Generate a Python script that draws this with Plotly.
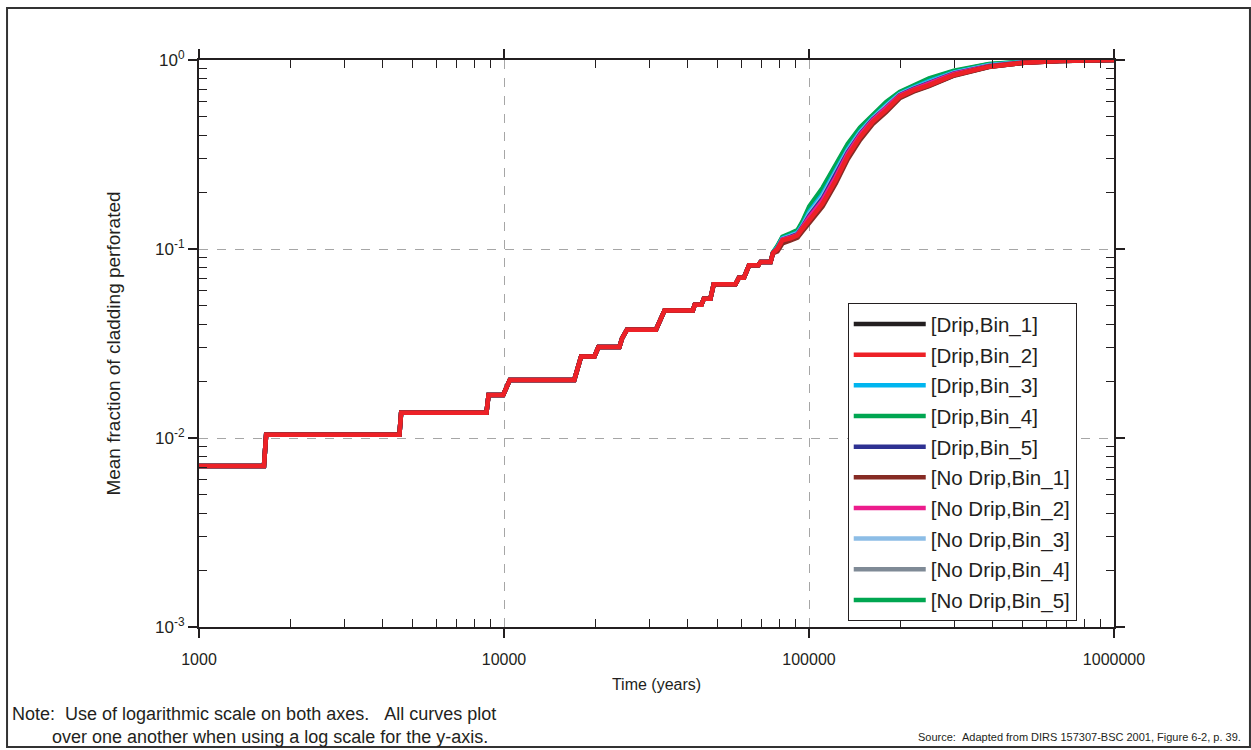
import plotly.graph_objects as go

# ---- data ----
t_early = [1000, 1633, 1660, 4540, 4600, 8760, 8900, 9940, 10450, 17000, 17900, 19800, 20400,
           23900, 24400, 25300, 31500, 32100, 33600, 41600, 42200, 44400, 45200, 47500, 48700,
           57400, 58900, 61200, 63600, 68200, 69400, 74800]
frac_early = [0.0071, 0.0071, 0.0104, 0.0104, 0.0136, 0.0136, 0.0169, 0.0169, 0.0203, 0.0203,
              0.0270, 0.0270, 0.0303, 0.0303, 0.0338, 0.0374, 0.0374, 0.0402, 0.0473, 0.0473,
              0.0507, 0.0507, 0.0546, 0.0546, 0.0650, 0.0650, 0.0705, 0.0705, 0.0820, 0.0820,
              0.0853, 0.0853]

t_late = [76200, 78800, 81800, 87000, 91700, 95200, 100200, 110800, 122400, 134000, 147000,
          161800, 179000, 198200, 220000, 247500, 298500, 389000, 508000, 662000, 1000000]

drip_bin1 = [0.0951, 0.099, 0.109, 0.112, 0.116, 0.126, 0.140, 0.171, 0.227, 0.304, 0.384,
             0.465, 0.537, 0.634, 0.685, 0.732, 0.829, 0.920, 0.967, 0.988, 1.0]
drip_bin2 = [0.0953, 0.100, 0.111, 0.114, 0.118, 0.128, 0.142, 0.174, 0.231, 0.310, 0.390,
             0.471, 0.543, 0.640, 0.690, 0.737, 0.833, 0.922, 0.968, 0.988, 1.0]
drip_bin3 = [0.0957, 0.102, 0.114, 0.118, 0.122, 0.134, 0.157, 0.195, 0.258, 0.337, 0.418,
             0.495, 0.575, 0.662, 0.715, 0.773, 0.860, 0.940, 0.975, 0.991, 1.0]
drip_bin4 = [0.0960, 0.104, 0.116, 0.121, 0.126, 0.140, 0.168, 0.211, 0.278, 0.360, 0.440,
             0.511, 0.600, 0.677, 0.735, 0.800, 0.877, 0.953, 0.980, 0.993, 1.0]
drip_bin5 = [0.0954, 0.101, 0.112, 0.116, 0.120, 0.131, 0.150, 0.185, 0.245, 0.325, 0.405,
             0.485, 0.560, 0.652, 0.703, 0.755, 0.848, 0.931, 0.972, 0.990, 1.0]
nodrip_bin1 = [0.0950, 0.097, 0.107, 0.111, 0.115, 0.124, 0.137, 0.168, 0.222, 0.298, 0.377,
               0.458, 0.530, 0.627, 0.680, 0.727, 0.825, 0.918, 0.966, 0.987, 1.0]
nodrip_bin2 = [0.0953, 0.100, 0.112, 0.115, 0.119, 0.130, 0.147, 0.181, 0.240, 0.320, 0.400,
               0.480, 0.555, 0.648, 0.698, 0.748, 0.843, 0.928, 0.971, 0.989, 1.0]
nodrip_bin3 = [0.0955, 0.101, 0.113, 0.117, 0.121, 0.132, 0.153, 0.190, 0.251, 0.331, 0.411,
               0.490, 0.568, 0.657, 0.709, 0.764, 0.854, 0.936, 0.974, 0.991, 1.0]
nodrip_bin4 = [0.0952, 0.099, 0.110, 0.113, 0.117, 0.127, 0.141, 0.172, 0.229, 0.307, 0.387,
               0.468, 0.540, 0.637, 0.688, 0.735, 0.831, 0.921, 0.968, 0.988, 1.0]
nodrip_bin5 = [0.0959, 0.103, 0.115, 0.120, 0.125, 0.138, 0.165, 0.207, 0.273, 0.355, 0.434,
               0.505, 0.592, 0.672, 0.729, 0.792, 0.871, 0.949, 0.978, 0.992, 1.0]

series_names = ["[Drip,Bin_1]", "[Drip,Bin_2]", "[Drip,Bin_3]", "[Drip,Bin_4]", "[Drip,Bin_5]",
                "[No Drip,Bin_1]", "[No Drip,Bin_2]", "[No Drip,Bin_3]", "[No Drip,Bin_4]",
                "[No Drip,Bin_5]"]
series_late = [drip_bin1, drip_bin2, drip_bin3, drip_bin4, drip_bin5,
               nodrip_bin1, nodrip_bin2, nodrip_bin3, nodrip_bin4, nodrip_bin5]
series_colors = ["#231f20", "#ed2127", "#00b5ef", "#00a651", "#2e3192",
                 "#862b24", "#ec1c8c", "#8cbde6", "#7f8a96", "#00a651"]

x_tick_vals = [1000, 10000, 100000, 1000000]
x_tick_text = ["1000", "10000", "100000", "1000000"]
y_tick_vals = [0.001, 0.01, 0.1, 1]
y_tick_text = ["10<sup>-3</sup>", "10<sup>-2</sup>", "10<sup>-1</sup>", "10<sup>0</sup>"]

FONT = "Liberation Sans, Arial, sans-serif"
INK = "#231f20"

fig = go.Figure()
# draw order: upper curves first, red last (on top)
draw_order = [3, 9, 2, 7, 4, 6, 8, 0, 5, 1]
for i in draw_order:
    fig.add_trace(go.Scatter(
        x=t_early + t_late,
        y=frac_early + series_late[i],
        mode="lines",
        name=series_names[i],
        line=dict(color=series_colors[i], width=4.5),
        legendrank=i + 1,
        legendgroup=series_names[i],
    ))

x_minor = [m * 10 ** e for e in (3, 4, 5) for m in range(2, 10)]
y_minor = [m * 10.0 ** e for e in (-3, -2, -1) for m in range(2, 10)]

axis_common = dict(
    showline=True, linecolor=INK, linewidth=2, mirror="allticks",
    ticks="outside", ticklen=9, tickwidth=1.5, tickcolor=INK,
    showgrid=True, gridcolor="#a6a6a6", griddash="dash", gridwidth=1,
    zeroline=False,
)

fig.update_xaxes(
    type="log", range=[3, 6], tickvals=x_tick_vals, ticktext=x_tick_text,
    tickfont=dict(family=FONT, size=16, color=INK), ticklabelstandoff=8,
    minor=dict(tickvals=x_minor, ticks="inside", ticklen=8, tickwidth=1, tickcolor=INK, showgrid=False),
    title=dict(text="Time (years)", font=dict(family=FONT, size=16, color=INK), standoff=12),
    **axis_common,
)
fig.update_yaxes(
    type="log", range=[-3, 0], tickvals=y_tick_vals, ticktext=y_tick_text,
    tickfont=dict(family=FONT, size=17, color=INK),
    minor=dict(tickvals=y_minor, ticks="inside", ticklen=8, tickwidth=1, tickcolor=INK, showgrid=False),
    title=dict(text="Mean fraction of cladding perforated", font=dict(family=FONT, size=19, color=INK), standoff=29),
    **axis_common,
)

note_text = ("Note:&nbsp;&nbsp;Use of logarithmic scale on both axes.&nbsp;&nbsp;&nbsp;All curves plot<br>"
             "&nbsp;&nbsp;&nbsp;&nbsp;&nbsp;&nbsp;&nbsp;&nbsp;over one another when using a log scale for the y-axis.")

fig.update_layout(
    width=1251, height=750,
    margin=dict(l=199, r=137, t=60, b=123),
    paper_bgcolor="white", plot_bgcolor="white",
    font=dict(family=FONT, color=INK),
    showlegend=True,
    legend=dict(
        x=0.709, y=0.571, xanchor="left", yanchor="top",
        bgcolor="white", bordercolor=INK, borderwidth=1,
        font=dict(family=FONT, size=20.5, color=INK),
        tracegroupgap=1, itemwidth=72,
    ),
    shapes=[dict(type="rect", xref="paper", yref="paper",
                 x0=-0.2098, x1=1.1486, y0=-0.2116, y1=1.0917,
                 line=dict(color="#333333", width=2), layer="below")],
    annotations=[
        dict(text=note_text, align="left",
             xref="paper", yref="paper", x=-0.2066, y=-0.1735, xanchor="left", yanchor="middle",
             showarrow=False, font=dict(family=FONT, size=18, color=INK)),
        dict(text="Source:&nbsp;&nbsp;Adapted from DIRS 157307-BSC 2001, Figure 6-2, p. 39.",
             xref="paper", yref="paper", x=1.1410, y=-0.1940, xanchor="right", yanchor="middle",
             showarrow=False, font=dict(family=FONT, size=11, color=INK)),
    ],
)

fig.write_html("out.html")
